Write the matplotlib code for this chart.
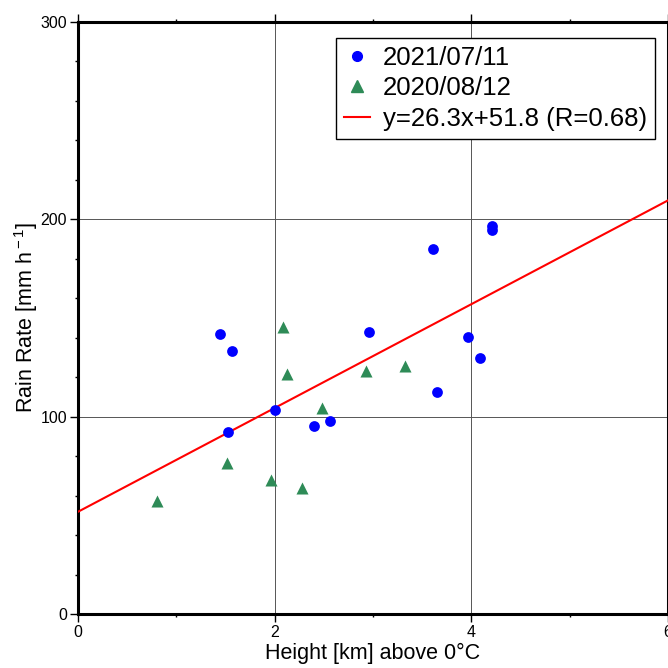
import matplotlib
matplotlib.use("Agg")
import matplotlib.pyplot as plt
from matplotlib.ticker import MultipleLocator
from matplotlib.lines import Line2D

plt.rcParams['font.family'] = ['Liberation Sans', 'DejaVu Sans']
plt.rcParams['mathtext.fontset'] = 'custom'
plt.rcParams['mathtext.rm'] = 'Liberation Sans'
plt.rcParams['mathtext.it'] = 'Liberation Sans:italic'
plt.rcParams['mathtext.bf'] = 'Liberation Sans:bold'

# Data
x_2021 = [1.445, 1.567, 1.523, 2.007, 2.404, 2.564, 2.963, 3.608, 3.652, 3.971, 4.090, 4.215, 4.215]
y_2021 = [141.8, 133.5, 92.2, 103.4, 95.4, 97.8, 142.8, 184.8, 112.7, 140.5, 129.9, 196.7, 194.6]
x_2020 = [2.085, 2.126, 2.927, 3.327, 2.485, 1.519, 1.966, 2.282, 0.804]
y_2020 = [145.6, 121.6, 123.3, 125.7, 104.3, 76.7, 67.9, 63.7, 57.4]
slope, intercept, r_value = 26.3, 51.8, 0.68
fit_x = [0, 6]

labels = ['2021/07/11', '2020/08/12', 'y=26.3x+51.8 (R=0.68)']

fig = plt.figure(figsize=(6.68, 6.68), dpi=100)
ax = fig.add_axes([78/668, 54/668, 590/668, 592/668])

ax.set_xlim(0, 6)
ax.set_ylim(0, 300)

ax.grid(True, which='major', color='#555555', linewidth=0.7)
ax.set_axisbelow(True)

fit_y = [slope * v + intercept for v in fit_x]
ax.plot(fit_x, fit_y, color='red', linewidth=1.5, zorder=3)
ax.scatter(x_2021, y_2021, s=60, color='blue', marker='o', zorder=4, linewidths=0)
ax.scatter(x_2020, y_2020, s=75, color='#2E8B57', marker='^', zorder=4, linewidths=0)

ax.xaxis.set_major_locator(MultipleLocator(2))
ax.xaxis.set_minor_locator(MultipleLocator(1))
ax.yaxis.set_major_locator(MultipleLocator(100))
ax.yaxis.set_minor_locator(MultipleLocator(20))
ax.tick_params(which='both', direction='out', top=True, right=True, width=1.0, labelsize=11.5, colors='black')
ax.tick_params(which='major', length=6, pad=2)
ax.tick_params(which='minor', length=2.5)
for s in ax.spines.values():
    s.set_linewidth(2.2)

ax.set_xlabel('Height [km] above 0°C', fontsize=15.5, labelpad=2)
ax.set_ylabel(r'Rain Rate [mm h$^{\rm -1}$]', fontsize=15.5, labelpad=0)

handles = [
    Line2D([], [], marker='o', color='blue', linestyle='none', markersize=7),
    Line2D([], [], marker='^', color='#2E8B57', linestyle='none', markersize=8),
    Line2D([], [], color='red', linewidth=1.5),
]
leg = ax.legend(handles, labels, loc='upper right', bbox_to_anchor=(0.978, 0.973), fontsize=18.5,
                frameon=True, fancybox=False, edgecolor='black', framealpha=1,
                handlelength=1.0, handletextpad=0.5, labelspacing=0.24, borderpad=0.32,
                borderaxespad=0)
leg.get_frame().set_linewidth(1.0)

fig.savefig('out.png', dpi=100)
